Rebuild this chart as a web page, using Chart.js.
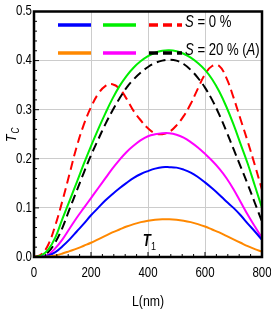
<!DOCTYPE html>
<html>
<head>
<meta charset="utf-8">
<script src="https://cdn.jsdelivr.net/npm/chart.js@4.4.0/dist/chart.umd.min.js"></script>
<style>
html,body{margin:0;padding:0;background:#fff;}
#wrap{width:271px;height:314px;position:relative;}
</style>
</head>
<body>
<div id="wrap"><canvas id="c" width="271" height="314"></canvas></div>
<script>
const L = [0,25,50,75,100,125,150,175,200,225,250,275,300,325,350,375,400,425,450,475,500,525,550,575,600,625,650,675,700,725,750,775,800];
const blue    = [0,0,0.003,0.01,0.022,0.036,0.052,0.068,0.085,0.1,0.115,0.128,0.14,0.151,0.161,0.169,0.175,0.18,0.183,0.183,0.182,0.178,0.172,0.163,0.152,0.14,0.127,0.113,0.1,0.085,0.068,0.052,0.035];
const green   = [0,0.003,0.015,0.04,0.078,0.115,0.152,0.19,0.226,0.26,0.292,0.322,0.348,0.369,0.386,0.399,0.409,0.416,0.42,0.421,0.419,0.414,0.406,0.395,0.381,0.362,0.337,0.306,0.27,0.23,0.19,0.145,0.10];
const red     = [0,0.005,0.025,0.065,0.115,0.17,0.225,0.27,0.305,0.332,0.348,0.352,0.343,0.322,0.297,0.278,0.262,0.252,0.25,0.255,0.268,0.287,0.312,0.343,0.372,0.389,0.389,0.365,0.325,0.28,0.235,0.187,0.137];
const orange  = [0,0,0.001,0.003,0.007,0.012,0.017,0.023,0.029,0.036,0.043,0.05,0.056,0.062,0.067,0.071,0.074,0.076,0.077,0.077,0.076,0.074,0.071,0.067,0.062,0.056,0.05,0.043,0.036,0.029,0.022,0.016,0.011];
const magenta = [0,0,0.005,0.018,0.036,0.058,0.08,0.1,0.12,0.14,0.16,0.18,0.198,0.214,0.227,0.238,0.246,0.25,0.252,0.252,0.249,0.243,0.234,0.223,0.21,0.196,0.18,0.161,0.138,0.112,0.086,0.062,0.039];
const black   = [0,0.002,0.01,0.03,0.06,0.098,0.135,0.172,0.207,0.239,0.27,0.298,0.323,0.345,0.362,0.376,0.387,0.395,0.4,0.402,0.4,0.393,0.381,0.365,0.345,0.32,0.29,0.256,0.22,0.184,0.148,0.11,0.072];
const xTicks = [0,200,400,600,800];
const yTicks = [0.0,0.1,0.2,0.3,0.4,0.5];
const legendRow1 = "S = 0 %";
const legendRow2 = "S = 20 % (A)";

const FAM = "'Liberation Sans',Arial,sans-serif";
const SX = 0.82;
const pts = arr => arr.map((v,i)=>({x:L[i], y:v}));
function ds(data, color, dash){
  return {data:pts(data), borderColor:color, borderWidth:2, pointRadius:0, fill:false,
          tension:0.4, borderDash:dash||[], borderCapStyle:'butt'};
}
// draw horizontally condensed text; returns width in px
function txt(ctx, s, x, y, font, align){
  ctx.save();
  ctx.font = font;
  const w = ctx.measureText(s).width*SX;
  let x0 = x;
  if(align==='center') x0 = x - w/2;
  else if(align==='right') x0 = x - w;
  ctx.translate(x0, y);
  ctx.scale(SX,1);
  ctx.textAlign='left';
  ctx.fillText(s, 0, 0);
  ctx.restore();
  return w;
}

const deco = {
  id:'deco',
  afterDraw(chart){
    const {ctx, chartArea:a, scales:{x,y}} = chart;
    ctx.save();
    // minor ticks
    ctx.strokeStyle='#000'; ctx.lineWidth=1;
    for(let v=0; v<=800; v+=40){
      const px = x.getPixelForValue(v);
      const len = (v%200===0)?5:3;
      ctx.beginPath(); ctx.moveTo(px, a.bottom); ctx.lineTo(px, a.bottom-len); ctx.stroke();
    }
    for(let k=0; k<=25; k++){
      const v = k*0.02;
      const py = y.getPixelForValue(v);
      const len = (k%5===0)?5:3;
      ctx.beginPath(); ctx.moveTo(a.left, py); ctx.lineTo(a.left+len, py); ctx.stroke();
    }
    // frame
    ctx.lineWidth=2.5; ctx.strokeStyle='#000';
    ctx.strokeRect(a.left, a.top, a.right-a.left, a.bottom-a.top);
    ctx.fillStyle='#000';
    ctx.textBaseline='middle';
    // tick labels
    xTicks.forEach(v=>txt(ctx, String(v), x.getPixelForValue(v), 273, "14px "+FAM, 'center'));
    yTicks.forEach(v=>txt(ctx, v.toFixed(1), a.left-2, y.getPixelForValue(v), "14px "+FAM, 'right'));
    // x title
    txt(ctx, "L(nm)", (a.left+a.right)/2, 302, "15px "+FAM, 'center');
    // y title
    ctx.save();
    ctx.translate(11, 137);
    ctx.rotate(-Math.PI/2);
    ctx.textBaseline='alphabetic';
    const tw = txt(ctx, "T", -5, 5, "italic 15px "+FAM, 'left');
    txt(ctx, "C", -5+tw+1, 8, "italic 10px "+FAM, 'left');
    ctx.restore();
    // T1 label
    ctx.textBaseline='alphabetic';
    const tx = x.getPixelForValue(382), ty = y.getPixelForValue(0.022);
    const tw2 = txt(ctx, "T", tx, ty, "italic bold 16px "+FAM, 'left');
    txt(ctx, "1", tx+tw2, ty+4, "11px "+FAM, 'left');
    // legend
    const rows = [
      {yy:25, items:[['#0000ff',[]],['#00ee00',[]],['#ff0000',[9,5]]], text:legendRow1},
      {yy:53, items:[['#ff8800',[]],['#ff00ff',[]],['#000000',[9,5]]], text:legendRow2}
    ];
    const xs = [[58,91],[103,136],[149,182]];
    rows.forEach(r=>{
      r.items.forEach((it,i)=>{
        ctx.strokeStyle=it[0]; ctx.lineWidth=3.5; ctx.setLineDash(it[1]);
        ctx.beginPath(); ctx.moveTo(xs[i][0], r.yy); ctx.lineTo(xs[i][1], r.yy); ctx.stroke();
      });
      ctx.setLineDash([]);
      ctx.fillStyle='#000'; ctx.textBaseline='middle';
      let cx = 185; const cy = r.yy-2;
      cx += txt(ctx, "S", cx, cy, "italic 16px "+FAM, 'left');
      const rest = r.text.slice(1);
      if(rest.indexOf("(A)")>=0){
        const pre = rest.replace("(A)","(");
        cx += txt(ctx, pre, cx, cy, "16px "+FAM, 'left');
        cx += txt(ctx, "A", cx, cy, "italic 16px "+FAM, 'left');
        txt(ctx, ")", cx, cy, "16px "+FAM, 'left');
      } else {
        txt(ctx, rest, cx, cy, "16px "+FAM, 'left');
      }
    });
    ctx.restore();
  }
};

new Chart(document.getElementById('c'), {
  type:'line',
  data:{datasets:[
    ds(orange,'#ff8800'), ds(blue,'#0000ff'), ds(magenta,'#ff00ff'),
    ds(green,'#00ee00'), ds(black,'#000000',[9,5]), ds(red,'#ff0000',[9,5])
  ]},
  options:{
    responsive:false, animation:false, devicePixelRatio:1,
    layout:{padding:{top:11.5, right:9, left:0, bottom:0}},
    plugins:{legend:{display:false}, tooltip:{enabled:false}},
    scales:{
      x:{type:'linear', min:0, max:800,
         afterBuildTicks(s){ s.ticks = xTicks.map(v=>({value:v})); },
         afterFit(s){ s.height = 57; },
         grid:{color:'#cccccc', lineWidth:1, drawTicks:false},
         border:{display:false},
         ticks:{display:false}},
      y:{type:'linear', min:0, max:0.5,
         afterBuildTicks(s){ s.ticks = yTicks.map(v=>({value:v})); },
         afterFit(s){ s.width = 34; },
         grid:{color:'#cccccc', lineWidth:1, drawTicks:false},
         border:{display:false},
         ticks:{display:false}}
    }
  },
  plugins:[deco]
});
</script>
</body>
</html>
